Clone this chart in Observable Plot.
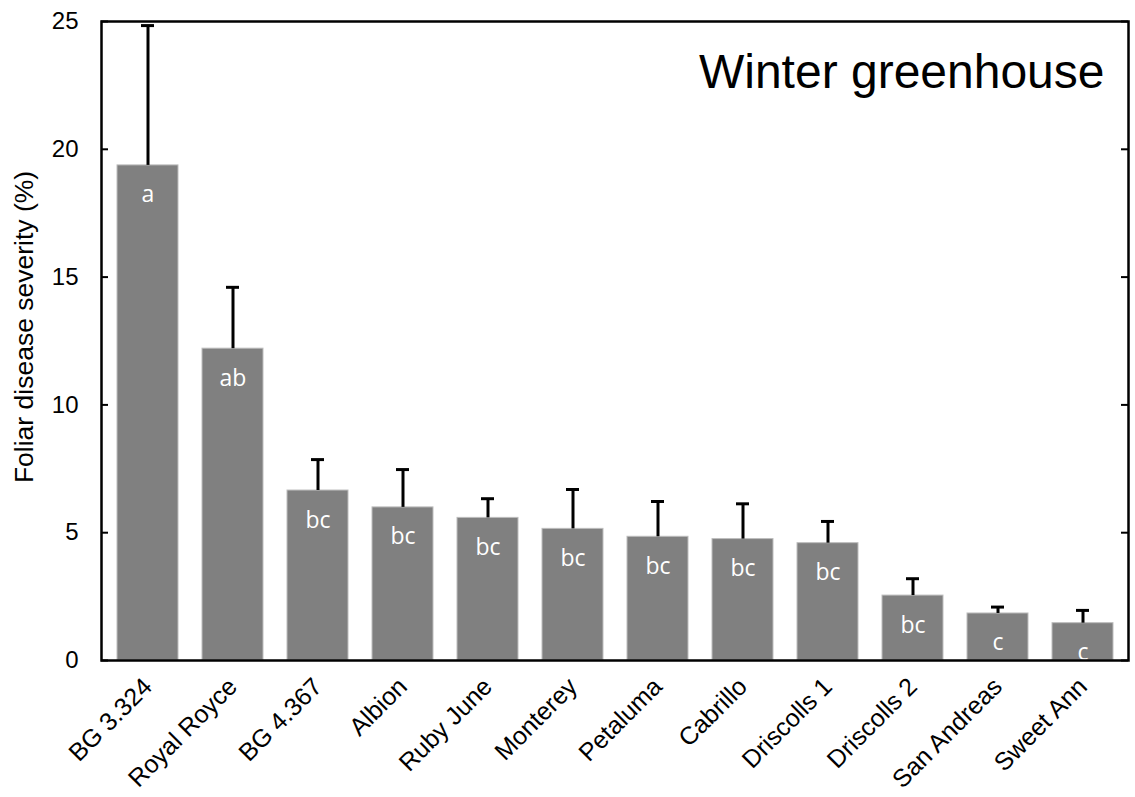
<!DOCTYPE html>
<html><head><meta charset="utf-8">
<script src="https://cdn.jsdelivr.net/npm/d3@7"></script>
<script src="https://cdn.jsdelivr.net/npm/@observablehq/plot@0.6"></script>
<style>html,body{margin:0;padding:0;background:#fff;overflow:hidden}svg{display:block}</style>
</head><body><div id="chart"></div>
<script>
const cultivars = ["BG 3.324","Royal Royce","BG 4.367","Albion","Ruby June","Monterey","Petaluma","Cabrillo","Driscolls 1","Driscolls 2","San Andreas","Sweet Ann"];
const severity = [19.37, 12.2, 6.65, 5.99, 5.58, 5.15, 4.84, 4.75, 4.59, 2.54, 1.84, 1.46];
const errorTop = [24.84, 14.6, 7.86, 7.47, 6.33, 6.69, 6.22, 6.13, 5.44, 3.2, 2.09, 1.96];
const letters = ["a","ab","bc","bc","bc","bc","bc","bc","bc","bc","c","c"];
const yTicks = [0, 5, 10, 15, 20, 25];

const data = cultivars.map((c, i) => ({cultivar: c, value: severity[i], err: errorTop[i], letter: letters[i]}));
const W = 1135, H = 797, mL = 101, mR = 7, mT = 21, mB = 137;
const plotW = W - mL - mR;
const pad = 0.287;
const bandW = plotW / cultivars.length * (1 - pad);

const chart = Plot.plot({
  width: W, height: H,
  marginLeft: mL, marginRight: mR, marginTop: mT, marginBottom: mB,
  style: {fontFamily: "'Liberation Sans', Arial, sans-serif", background: "white"},
  x: {domain: cultivars, paddingInner: pad, paddingOuter: pad / 2, label: null},
  y: {domain: [0, 25], label: null},
  marks: [
    Plot.barY(data, {x: "cultivar", y: "value", fill: "#808080", stroke: "#bdbdbd", strokeWidth: 1}),
    Plot.ruleX(data, {x: "cultivar", y1: "value", y2: "err", stroke: "black", strokeWidth: 3}),
    Plot.tickY(data, {x: "cultivar", y: "err", stroke: "black", strokeWidth: 3, insetLeft: (bandW - 13) / 2, insetRight: (bandW - 13) / 2}),
    Plot.text(data, {x: "cultivar", y: "value", text: "letter", lineAnchor: "bottom", dy: 37, fill: "white", fontSize: 23, fontFamily: "'Open Sans', sans-serif"}),
    Plot.tickY(yTicks, {y: d => d, stroke: "black", strokeWidth: 2, insetRight: plotW - 7}),
    Plot.tickY(yTicks, {y: d => d, stroke: "black", strokeWidth: 2, insetLeft: plotW - 7}),
    Plot.axisY(yTicks, {anchor: "left", tickSize: 0, tickPadding: 23, fontSize: 24, label: null, fill: "black"}),
    Plot.axisX({anchor: "bottom", tickSize: 0, tickPadding: 22, tickRotate: -45, fontSize: 25, label: null, fill: "black"}),
    Plot.frame({stroke: "black", strokeWidth: 2.5}),
    Plot.text(["Foliar disease severity (%)"], {frameAnchor: "left", textAnchor: "middle", rotate: -90, dx: -77, dy: -14, fontSize: 26.5, fill: "black"}),
    Plot.text(["Winter greenhouse"], {frameAnchor: "top-right", textAnchor: "end", lineAnchor: "bottom", dx: -24, dy: 66, fontSize: 48, fill: "black"})
  ]
});
document.getElementById("chart").append(chart);
</script>
</body></html>
